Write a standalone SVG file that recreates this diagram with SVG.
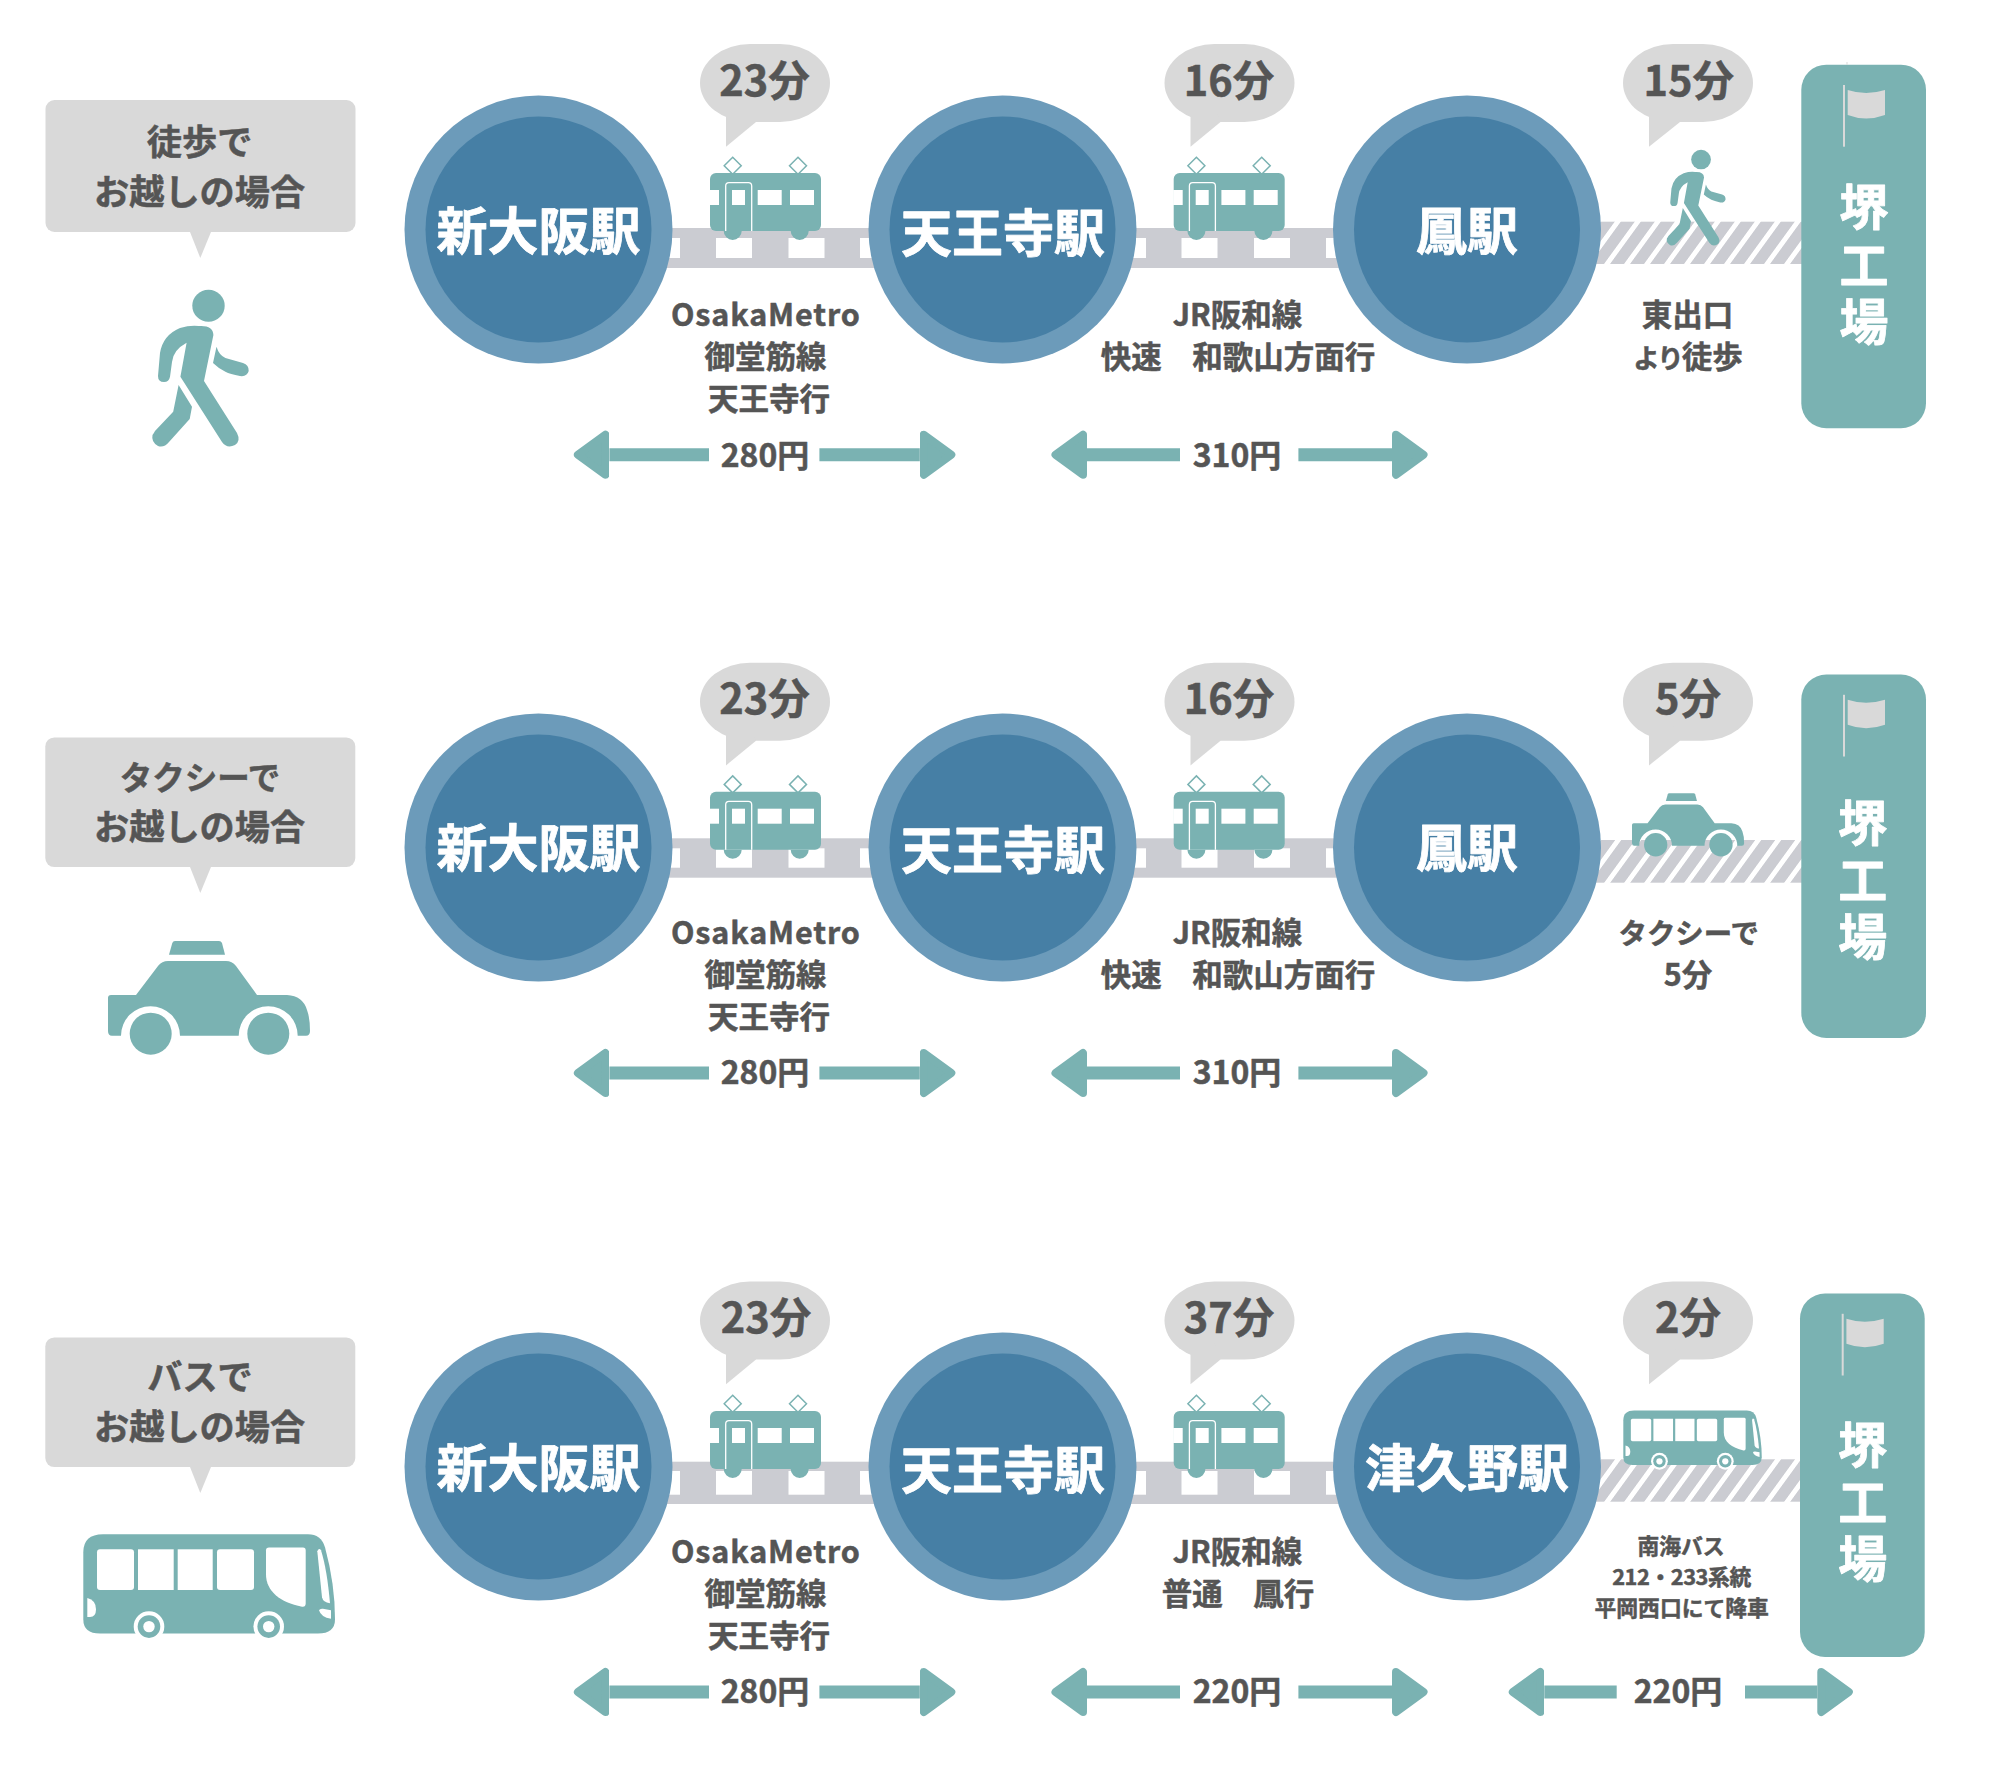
<svg xmlns="http://www.w3.org/2000/svg" width="2000" height="1767" viewBox="0 0 2000 1767">
<style>
text{font-family:"Noto Sans CJK JP","Noto Sans",sans-serif;font-weight:700;text-anchor:middle}
.dk{fill:#555;stroke:#555;stroke-width:.5;stroke-linejoin:round}
.st{fill:#fff;stroke:#fff;stroke-width:.8;stroke-linejoin:round;font-size:51px}
.fc{fill:#fff;stroke:#fff;stroke-width:.8;stroke-linejoin:round;font-size:49px}
.t40{font-size:41.5px}.t34{font-size:35.2px}.t32{font-size:32px}.t30{font-size:30.5px}.t22{font-size:21.8px}
.gr{fill:#D9D9D9}.te{fill:#7AB2B2}.wh{fill:#fff}
.tr{fill:#CBCCD2}
.fare{stroke:#7AB2B2;stroke-width:13;fill:none}
</style>
<defs>
<pattern id="hatch" patternUnits="userSpaceOnUse" width="20" height="60" patternTransform="translate(1610,264) skewX(-36)">
<rect width="14" height="60" fill="#CBCCD2"/>
</pattern>
<marker id="head" markerUnits="userSpaceOnUse" markerWidth="40" markerHeight="52" viewBox="0 0 40 52" refX="0" refY="26" orient="auto">
<path d="M4,6 L31.5,26 L4,46 Z" fill="#7AB2B2" stroke="#7AB2B2" stroke-width="8" stroke-linejoin="round"/>
</marker>
<g id="train">
<path class="te" d="M723.7,231a9,9 0 0 0 18,0zM790.7,231a9,9 0 0 0 18,0z"/>
<polygon points="732.7,157.2 741.2,165.7 732.7,174.2 724.2,165.7" fill="#fff" stroke="#7AB2B2" stroke-width="1.5"/>
<polygon points="798,157.2 806.5,165.7 798,174.2 789.5,165.7" fill="#fff" stroke="#7AB2B2" stroke-width="1.5"/>
<rect class="te" x="710" y="173" width="111" height="58" rx="6"/>
<rect class="wh" x="709.5" y="190" width="9.5" height="15"/>
<path d="M725.7,231V186Q725.7,182.7 729,182.7H748.4Q751.7,182.7 751.7,186V231" fill="none" stroke="#fff" stroke-width="1.3"/>
<rect class="wh" x="732" y="190" width="13" height="15"/>
<rect class="wh" x="757.7" y="190" width="24" height="15"/>
<rect class="wh" x="790" y="190" width="24" height="15"/>
</g>
<g id="walker" class="te">
<ellipse cx="208.5" cy="305.7" rx="16.2" ry="16"/>
<path d="M198.7,326Q213,325 213.4,335L204,381L237,433Q241,441 235,445Q227,449 222,442L180.4,376.7L186.6,342.7Q173,350 172,362L170,376.7Q169,382 164,382Q158,382 158,376L160,353Q163,335 180,328Q190,325 198.7,326Z"/>
<path d="M216.5,346.7Q219,355 225.4,358L243,363Q249,365 248.7,371Q247,377 240,376Q230,374 225.4,371.7Q218,368 213,363Z"/>
<path d="M178.6,385L192,406.7L189.7,419L169,442Q164,448 158,446Q151,442 152.5,435Q154,433 155,431L173.2,411.7Z"/>
</g>
<g id="taxi" class="te">
<path d="M169,954.7L172.3,943Q173,941 175,941H219Q221,941 222,943L225,954.7Z"/>
<path d="M111,995H136L158,966Q162,961 168,961H226Q232,961 236,966L257,995H287Q303,996 307,1010Q310,1018 310,1031Q310,1035.7 306,1035.7H297.7A29.5,29.5 0 0 0 238.7,1035.7H180A29.5,29.5 0 0 0 121,1035.7H112Q108,1035.7 108,1031V998Q108,995 111,995Z"/>
<circle cx="150.7" cy="1033.7" r="21"/>
<circle cx="268.3" cy="1033.7" r="21"/>
</g>
<g id="bus">
<path class="te" d="M83.3,1553Q83.3,1535 103,1535H308Q321,1535 325,1548Q335,1585 335,1620Q335,1634.3 318,1634.3H100Q83.3,1634.3 83.3,1620Z"/>
<g class="wh">
<rect x="97" y="1550" width="37" height="40.7" rx="3"/>
<rect x="138" y="1550" width="35.7" height="40.7"/>
<rect x="177.7" y="1550" width="35" height="40.7"/>
<rect x="217" y="1550" width="37" height="40.7" rx="3"/>
<path d="M266,1551Q266,1548.3 269,1548.3H303Q305.7,1548.3 305.7,1551V1604Q305.7,1608 302,1607.5C280,1603 266,1592 266,1575Z"/>
<path d="M317.3,1552Q319,1548 321,1551Q327,1570 330,1604Q323,1603 322,1598Z"/>
<path d="M319,1611Q320,1609 323,1609.5L331,1611V1619.5Q321,1618 319,1611Z"/>
<path d="M87.3,1598.7Q96,1601 96,1610Q96,1617.7 90,1617.7H87.3Z"/>
<circle cx="149" cy="1627.3" r="15.3"/>
<circle cx="268.7" cy="1627.3" r="15.3"/>
</g>
<circle class="te" cx="149" cy="1627.3" r="11.3"/>
<circle class="te" cx="268.7" cy="1627.3" r="11.3"/>
<circle class="wh" cx="149" cy="1627.3" r="5.7"/>
<circle class="wh" cx="268.7" cy="1627.3" r="5.7"/>
</g>
<g id="station-disc">
<circle cx="538.5" cy="229.5" r="134" fill="#6C9BBA"/>
<circle cx="538.5" cy="229.5" r="113" fill="#467FA5"/>
</g>
<g id="bubble" class="gr">
<rect x="700" y="44" width="130" height="78" rx="50" ry="39"/>
<polygon points="726,105 726,146.7 756,122 750,105"/>
</g>
<g id="bubble-walk" class="gr">
<rect x="1623" y="44" width="130" height="78" rx="50" ry="39"/>
<polygon points="1649,105 1649,146.7 1680,122 1672,105"/>
</g>
<g id="factory">
<rect class="te" x="1801.3" y="64.7" width="124.7" height="363.5" rx="25"/>
<rect class="gr" x="1843" y="85" width="2" height="61.7"/>
<path class="gr" d="M1847.7,90Q1866,96 1885,90V115Q1866,122 1847.7,115Z"/>
</g>
<g id="disc-row">
<use href="#station-disc"/>
<use href="#station-disc" transform="translate(464,0)"/>
<use href="#station-disc" transform="translate(928.5,0)"/>
</g>
</defs>

<g id="connectors">
<g id="tracks">
<rect class="tr" x="660" y="228" width="220" height="40"/>
<rect class="wh" x="644" y="238" width="36" height="20"/><rect class="wh" x="716" y="238" width="36" height="20"/><rect class="wh" x="788.5" y="238" width="36" height="20"/><rect class="wh" x="860" y="238" width="36" height="20"/>
<rect class="tr" x="1125" y="228" width="220" height="40"/>
<rect class="wh" x="1110" y="238" width="36" height="20"/><rect class="wh" x="1181.5" y="238" width="36" height="20"/><rect class="wh" x="1254" y="238" width="36" height="20"/><rect class="wh" x="1326" y="238" width="36" height="20"/>
<rect x="1590" y="221.7" width="212" height="42.3" fill="url(#hatch)"/>

<rect class="tr" x="660" y="838.3" width="220" height="39.4"/>
<rect class="wh" x="644" y="848.3" width="36" height="19.4"/><rect class="wh" x="716" y="848.3" width="36" height="19.4"/><rect class="wh" x="788.5" y="848.3" width="36" height="19.4"/><rect class="wh" x="860" y="848.3" width="36" height="19.4"/>
<rect class="tr" x="1125" y="838.3" width="220" height="39.4"/>
<rect class="wh" x="1110" y="848.3" width="36" height="19.4"/><rect class="wh" x="1181.5" y="848.3" width="36" height="19.4"/><rect class="wh" x="1254" y="848.3" width="36" height="19.4"/><rect class="wh" x="1326" y="848.3" width="36" height="19.4"/>
<g transform="translate(0,619)"><rect x="1590" y="221" width="212" height="42.7" fill="url(#hatch)"/></g>

<rect class="tr" x="660" y="1461.7" width="220" height="42.3"/>
<rect class="wh" x="644" y="1471" width="36" height="23.7"/><rect class="wh" x="716" y="1471" width="36" height="23.7"/><rect class="wh" x="788.5" y="1471" width="36" height="23.7"/><rect class="wh" x="860" y="1471" width="36" height="23.7"/>
<rect class="tr" x="1125" y="1461.7" width="220" height="42.3"/>
<rect class="wh" x="1110" y="1471" width="36" height="23.7"/><rect class="wh" x="1181.5" y="1471" width="36" height="23.7"/><rect class="wh" x="1254" y="1471" width="36" height="23.7"/><rect class="wh" x="1326" y="1471" width="36" height="23.7"/>
<g transform="translate(0,1238)"><rect x="1590" y="221.3" width="212" height="42.4" fill="url(#hatch)"/></g>
</g>
<g id="fares">
<line class="fare" x1="709" y1="454.7" x2="609.4" y2="454.7" marker-end="url(#head)"/>
<line class="fare" x1="819.4" y1="454.7" x2="919.8" y2="454.7" marker-end="url(#head)"/>
<line class="fare" x1="1180" y1="454.7" x2="1087" y2="454.7" marker-end="url(#head)"/>
<line class="fare" x1="1298.4" y1="454.7" x2="1392" y2="454.7" marker-end="url(#head)"/>
<line class="fare" x1="709" y1="1073" x2="609.4" y2="1073" marker-end="url(#head)"/>
<line class="fare" x1="819.4" y1="1073" x2="919.8" y2="1073" marker-end="url(#head)"/>
<line class="fare" x1="1180" y1="1073" x2="1087" y2="1073" marker-end="url(#head)"/>
<line class="fare" x1="1298.4" y1="1073" x2="1392" y2="1073" marker-end="url(#head)"/>
<line class="fare" x1="709" y1="1692" x2="609.4" y2="1692" marker-end="url(#head)"/>
<line class="fare" x1="819.4" y1="1692" x2="919.8" y2="1692" marker-end="url(#head)"/>
<line class="fare" x1="1180" y1="1692" x2="1087" y2="1692" marker-end="url(#head)"/>
<line class="fare" x1="1298.4" y1="1692" x2="1392" y2="1692" marker-end="url(#head)"/>
<line class="fare" x1="1616.7" y1="1692" x2="1544.3" y2="1692" marker-end="url(#head)"/>
<line class="fare" x1="1745" y1="1692" x2="1817.3" y2="1692" marker-end="url(#head)"/>
</g>
</g>

<g id="row-walk">
<g id="callout-walk">
<rect class="gr" x="45.5" y="100" width="310" height="132" rx="9"/><polygon class="gr" points="190,232 211,232 200.3,258"/>
<text class="dk t34" x="199.6" y="154.5">徒歩で</text><text class="dk t34" x="199.6" y="205">お越しの場合</text>
</g>
<use id="icon-walk" href="#walker"/>
<g id="stations-1"><use href="#disc-row"/>
<text class="st" x="538.6" y="250">新大阪駅</text><text class="st" x="1003" y="252">天王寺駅</text><text class="st" x="1467" y="250">鳳駅</text></g>
<g id="leg-a1"><use href="#bubble"/><use href="#train"/><text class="dk t40" x="764.5" y="96">23分</text>
<text class="dk t30" x="765.4" y="326" textLength="189">OsakaMetro</text><text class="dk t30" x="765.4" y="368">御堂筋線</text><text class="dk t30" x="769" y="410">天王寺行</text><text class="dk t32" x="765" y="467">280円</text></g>
<g id="leg-b1"><use href="#bubble" transform="translate(464.5,0)"/><use href="#train" transform="translate(463.7,0)"/><text class="dk t40" x="1229" y="96">16分</text>
<text class="dk t30" x="1237.5" y="326">JR阪和線</text><text class="dk t30" x="1238" y="368">快速　和歌山方面行</text><text class="dk t32" x="1237" y="467">310円</text></g>
<g id="leg-c1"><use href="#bubble-walk"/><text class="dk t40" x="1688.7" y="96">15分</text>
<use href="#walker" transform="translate(1573.86,-26.9) scale(.61)"/>
<text class="dk t30" x="1687.5" y="326">東出口</text><text class="dk t30" x="1688" y="368"><tspan font-size="26.5" letter-spacing="-2">より</tspan>徒歩</text></g>
<g id="factory-1"><use href="#factory"/><rect class="gr" x="1846.5" y="62" width="1" height="3"/>
<text class="fc" x="1864" y="225">堺</text><text class="fc" x="1864" y="284">工</text><text class="fc" x="1864" y="340">場</text></g>
</g>

<g id="row-taxi">
<g id="callout-taxi">
<rect class="gr" x="45.3" y="737.4" width="310" height="129.7" rx="9"/><polygon class="gr" points="190,867 211,867 200.3,893"/>
<text class="dk" font-size="32.5" x="200" y="789.5">タクシーで</text><text class="dk t34" x="199.6" y="840">お越しの場合</text>
</g>
<use id="icon-taxi" href="#taxi"/>
<use id="stations-2-discs" href="#disc-row" transform="translate(0,618)"/>
<g transform="translate(0,618.7)"><use href="#bubble"/><use href="#train"/><use href="#bubble" transform="translate(464.5,0)"/><use href="#train" transform="translate(463.7,0)"/><use href="#bubble-walk"/></g>
<g transform="translate(0,618.4)">
<g id="stations-2"><text class="st" x="538.6" y="249">新大阪駅</text><text class="st" x="1003" y="251">天王寺駅</text><text class="st" x="1467" y="249">鳳駅</text></g>
<g id="leg-a2"><text class="dk t40" x="764.5" y="95.5">23分</text>
<text class="dk t30" x="765.4" y="326" textLength="189">OsakaMetro</text><text class="dk t30" x="765.4" y="368">御堂筋線</text><text class="dk t30" x="769" y="410">天王寺行</text><text class="dk t32" x="765" y="466">280円</text></g>
<g id="leg-b2"><text class="dk t40" x="1229" y="95.5">16分</text>
<text class="dk t30" x="1237.5" y="326">JR阪和線</text><text class="dk t30" x="1238" y="368">快速　和歌山方面行</text><text class="dk t32" x="1237" y="466">310円</text></g>
<g id="leg-c2"><text class="dk t40" x="1688" y="95.5">5分</text>
<text class="dk" font-size="28.4" x="1688.7" y="326">タクシーで</text><text class="dk t30" x="1688" y="368">5分</text></g>
</g>
<use href="#taxi" transform="translate(1572.06,271.05) scale(.555)"/>
<g id="factory-2" transform="translate(0,609.8)"><use href="#factory"/></g>
<text class="fc" x="1862.7" y="841">堺</text><text class="fc" x="1862.7" y="899">工</text><text class="fc" x="1862.7" y="955">場</text>
</g>

<g id="row-bus">
<g id="callout-bus">
<rect class="gr" x="45.3" y="1337.4" width="310" height="129.7" rx="9"/><polygon class="gr" points="190,1467 211,1467 200.3,1493"/>
<text class="dk t34" x="200" y="1389.5">バスで</text><text class="dk t34" x="199.6" y="1440">お越しの場合</text>
</g>
<use id="icon-bus" href="#bus" transform="translate(0,-.7)"/>
<use id="stations-3-discs" href="#disc-row" transform="translate(0,1237)"/>
<g transform="translate(0,1237.6)"><use href="#bubble"/><use href="#train" transform="translate(0,.4)"/><use href="#bubble" transform="translate(464.5,0)"/><use href="#train" transform="translate(463.7,.4)"/><use href="#bubble-walk"/></g>
<g transform="translate(0,1237)">
<g id="stations-3"><text class="st" x="538.6" y="249.5">新大阪駅</text><text class="st" x="1003" y="251.5">天王寺駅</text><text class="st" x="1467" y="249.5">津久野駅</text></g>
<g id="leg-a3"><text class="dk t40" x="766" y="95.5">23分</text>
<text class="dk t30" x="765.4" y="326" textLength="189">OsakaMetro</text><text class="dk t30" x="765.4" y="368">御堂筋線</text><text class="dk t30" x="769" y="410">天王寺行</text><text class="dk t32" x="765" y="466">280円</text></g>
<g id="leg-b3"><text class="dk t40" x="1229" y="95.5">37分</text>
<text class="dk t30" x="1237.5" y="326">JR阪和線</text><text class="dk t30" x="1238" y="368">普通　鳳行</text><text class="dk t32" x="1237" y="466">220円</text></g>
<g id="leg-c3"><text class="dk t40" x="1688" y="95.5">2分</text><text class="dk t32" x="1678" y="466">220円</text></g>
</g>
<use href="#bus" transform="translate(1577.5,566.25) scale(.55)"/>
<text class="dk t22" x="1681" y="1554">南海バス</text><text class="dk t22" x="1681.7" y="1584.5" textLength="139">212・233系統</text><text class="dk t22" x="1681.7" y="1615.5">平岡西口にて降車</text>
<g id="factory-3" transform="translate(-1.3,1228.8)"><use href="#factory"/></g>
<text class="fc" x="1862.7" y="1463">堺</text><text class="fc" x="1862.7" y="1520.5">工</text><text class="fc" x="1862.7" y="1576.5">場</text>
</g>
</svg>
